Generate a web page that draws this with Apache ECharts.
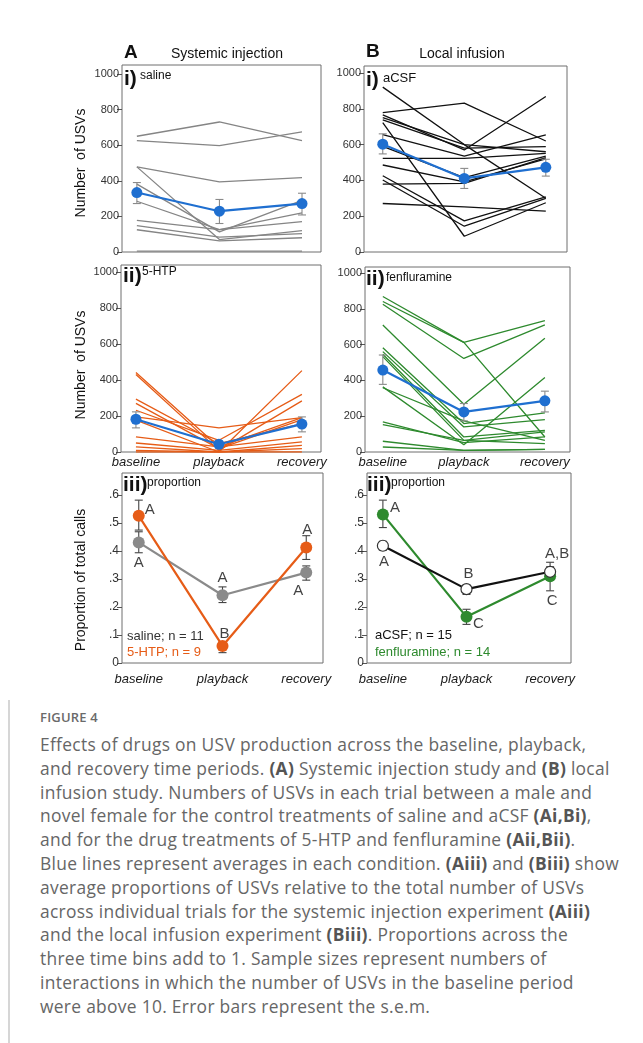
<!DOCTYPE html>
<html>
<head>
<meta charset="utf-8">
<script src="https://cdn.jsdelivr.net/npm/echarts@6/dist/echarts.min.js"></script>
<style>
  html, body { margin: 0; padding: 0; background: #fff; }
  #wrap { position: relative; width: 643px; height: 1043px; overflow: hidden; }
  #chart { position: absolute; left: 0; top: 0; width: 643px; height: 700px; }
  #border { position: absolute; left: 8px; top: 0; width: 2px; height: 1043px; background: #d6d6d6; }
  #figlabel { position: absolute; left: 40px; top: 708px; font-family: "Open Sans", sans-serif; font-size: 13px; font-weight: 600; color: #6a6a6a; letter-spacing: 0.2px; }
  #caption { position: absolute; left: 40px; top: 733px; font-family: "Open Sans", sans-serif; font-size: 17.4px; line-height: 23.8px; color: #666; white-space: nowrap; letter-spacing: 0.3px; }
  #caption b { font-weight: 700; color: #555; }
</style>
</head>
<body>
<div id="wrap">
  <div id="border"></div>
  <div id="chart"></div>
  <div id="figlabel">FIGURE 4</div>
  <div id="caption">Effects of drugs on USV production across the baseline, playback,<br>and recovery time periods. <b>(A)</b> Systemic injection study and <b>(B)</b> local<br>infusion study. Numbers of USVs in each trial between a male and<br>novel female for the control treatments of saline and aCSF <b>(Ai,Bi)</b>,<br>and for the drug treatments of 5-HTP and fenfluramine <b>(Aii,Bii)</b>.<br>Blue lines represent averages in each condition. <b>(Aiii)</b> and <b>(Biii)</b> show<br>average proportions of USVs relative to the total number of USVs<br>across individual trials for the systemic injection experiment <b>(Aiii)</b><br>and the local infusion experiment <b>(Biii)</b>. Proportions across the<br>three time bins add to 1. Sample sizes represent numbers of<br>interactions in which the number of USVs in the baseline period<br>were above 10. Error bars represent the s.e.m.</div>
</div>
<script>
// ---------------- DATA ----------------
const categories = ['baseline', 'playback', 'recovery'];
const countTicks = [0, 200, 400, 600, 800, 1000];
const propTicks = [0, 0.1, 0.2, 0.3, 0.4, 0.5, 0.6];

// individual trials (baseline, playback, recovery)
const salineTrials = [
  [650, 730, 625], [625, 597, 675], [478, 394, 418], [478, 70, 120],
  [381, 113, 290], [285, 126, 220], [178, 126, 170], [148, 84, 103],
  [125, 62, 80], [5, 5, 5]
];
const salineMean = [334, 229, 272];
const salineSem = [[272, 390], [160, 295], [208, 330]];

const acsfTrials = [
  [921, 600, 300], [779, 832, 620], [766, 570, 869], [738, 580, 589],
  [723, 88, 275], [655, 536, 654], [590, 415, 536], [523, 523, 551],
  [486, 392, 520], [426, 174, 308], [402, 144, 299], [379, 383, 527],
  [271, 252, 228], [750, 600, 560]
];
const acsfMean = [602, 411, 473];
const acsfSem = [[548, 660], [355, 467], [424, 518]];

const htpTrials = [
  [442, 28, 191], [431, 9, 284], [294, 46, 158], [270, 19, 180],
  [232, 65, 320], [195, 134, 191], [177, 0, 452], [84, 28, 84],
  [50, 9, 56], [28, 0, 37], [9, 0, 19], [0, 0, 0]
];
const htpMean = [182, 43, 155];
const htpSem = [[134, 223], [30, 55], [112, 195]];

const fenTrials = [
  [869, 613, 84], [841, 613, 734], [826, 523, 710], [710, 267, 636],
  [583, 159, 219], [561, 140, 181], [546, 84, 121], [533, 65, 112],
  [364, 41, 417], [359, 174, 65], [168, 52, 84], [153, 65, 47],
  [60, 9, 15], [28, 9, 15]
];
const fenMean = [458, 224, 286];
const fenSem = [[378, 542], [174, 271], [224, 340]];

const salineProp = [0.431, 0.242, 0.323];
const salinePropSem = [[0.394, 0.469], [0.216, 0.272], [0.296, 0.347]];
const htpProp = [0.526, 0.061, 0.413];
const htpPropSem = [[0.475, 0.582], [0.037, 0.075], [0.370, 0.455]];
const acsfProp = [0.419, 0.264, 0.326];
const acsfPropSem = [[0.403, 0.435], [0.245, 0.278], [0.308, 0.360]];
const fenProp = [0.531, 0.165, 0.310];
const fenPropSem = [[0.484, 0.582], [0.138, 0.192], [0.258, 0.344]];

const salineLetters = ['A', 'A', 'A'];
const htpLetters = ['A', 'B', 'A'];
const acsfLetters = ['A', 'B', 'A,B'];
const fenLetters = ['A', 'C', 'C'];

// ---------------- STYLE / LAYOUT ----------------
const BLUE = '#1f6fd0', GRAY = '#858585', ORANGE = '#e65c17', GREEN = '#2e8a2e', BLACK = '#111';
const FONT = '"Liberation Sans", Arial, sans-serif';

const panels = [
  { left: 122, top: 65, right: 321, bottom: 252, xmin: -0.18, xmax: 2.23, ymax: 1050, kind: 'count', xlabels: false }, // Ai
  { left: 364, top: 66, right: 567, bottom: 252, xmin: -0.23, xmax: 2.26, ymax: 1039, kind: 'count', xlabels: false }, // Bi
  { left: 121, top: 265, right: 321, bottom: 452, xmin: -0.18, xmax: 2.23, ymax: 1039, kind: 'count', xlabels: true },  // Aii
  { left: 365, top: 267, right: 570, bottom: 452, xmin: -0.22, xmax: 2.31, ymax: 1034, kind: 'count', xlabels: true },  // Bii
  { left: 122, top: 473, right: 323, bottom: 663, xmin: -0.20, xmax: 2.20, ymax: 0.679, kind: 'prop', xlabels: true },  // Aiii
  { left: 367, top: 473, right: 571, bottom: 663, xmin: -0.19, xmax: 2.25, ymax: 0.679, kind: 'prop', xlabels: true }   // Biii
];

const grids = [], xAxes = [], yAxes = [], series = [];

panels.forEach((p, i) => {
  grids.push({ left: p.left, top: p.top, width: p.right - p.left, height: p.bottom - p.top,
    show: true, borderColor: '#6e6e6e', borderWidth: 1, backgroundColor: 'transparent' });
  xAxes.push({
    type: 'value', gridIndex: i, min: p.xmin, max: p.xmax, position: 'bottom',
    axisLine: { show: false, onZero: false }, axisTick: { show: false }, splitLine: { show: false },
    axisLabel: {
      show: p.xlabels, customValues: [0, 1, 2],
      formatter: v => categories[Math.round(v)],
      fontFamily: FONT, fontStyle: 'italic', fontSize: 13, color: '#1a1a1a',
      margin: p.kind === 'prop' ? 10 : 4
    }
  });
  const ticks = p.kind === 'count' ? countTicks : propTicks;
  yAxes.push({
    type: 'value', gridIndex: i, min: 0, max: p.ymax, position: 'left',
    axisLine: { show: false, onZero: false },
    axisTick: { show: true, length: 5, customValues: ticks, lineStyle: { color: '#555' } },
    splitLine: { show: false },
    axisLabel: {
      customValues: ticks, fontFamily: FONT, fontSize: p.kind === 'count' ? 11 : 12, color: '#333', margin: 3,
      formatter: v => p.kind === 'count' ? String(v) : (v === 0 ? '0' : String(Math.round(v * 10) / 10).replace(/^0/, ''))
    }
  });
});

function toPts(arr) { return arr.map((v, k) => [k, v]); }

function addTrials(trials, gi, color, width) {
  trials.forEach(t => series.push({
    type: 'line', xAxisIndex: gi, yAxisIndex: gi, data: toPts(t), symbol: 'none',
    lineStyle: { color: color, width: width }, silent: true, z: 2
  }));
}

function errRender(params, api) {
  const x = api.value(0), lo = api.value(1), hi = api.value(2);
  const a = api.coord([x, lo]), b = api.coord([x, hi]);
  const w = 4, st = { stroke: api.visual('color'), lineWidth: 1.1 };
  return { type: 'group', children: [
    { type: 'line', shape: { x1: a[0], y1: a[1], x2: b[0], y2: b[1] }, style: st },
    { type: 'line', shape: { x1: a[0] - w, y1: a[1], x2: a[0] + w, y2: a[1] }, style: st },
    { type: 'line', shape: { x1: b[0] - w, y1: b[1], x2: b[0] + w, y2: b[1] }, style: st }
  ]};
}

function addErr(sem, gi, color, z) {
  series.push({
    type: 'custom', xAxisIndex: gi, yAxisIndex: gi, renderItem: errRender,
    data: sem.map((s, k) => [k, s[0], s[1]]), itemStyle: { color: color }, silent: true, z: z
  });
}

function addMean(vals, gi, color, opts) {
  opts = opts || {};
  series.push({
    type: 'line', xAxisIndex: gi, yAxisIndex: gi, data: toPts(vals),
    symbol: 'circle', symbolSize: opts.size || 11,
    itemStyle: { color: opts.fill || color, borderColor: opts.border || color, borderWidth: opts.border ? 1.2 : 0 },
    lineStyle: { color: opts.line || color, width: opts.width || 2.2 }, silent: true, z: opts.z || 5
  });
}

function addLetters(vals, letters, gi, color, offsets) {
  series.push({
    type: 'scatter', xAxisIndex: gi, yAxisIndex: gi, symbolSize: 0, silent: true, z: 10,
    data: vals.map((v, k) => ({
      value: [k, v],
      label: { show: true, formatter: letters[k], position: offsets[k], align: 'center', verticalAlign: 'middle',
        fontFamily: FONT, fontSize: 15, color: color }
    }))
  });
}

addTrials(salineTrials, 0, GRAY, 1.3);
addErr(salineSem, 0, '#8a8a8a', 4);
addMean(salineMean, 0, BLUE);
addTrials(acsfTrials, 1, BLACK, 1.3);
addErr(acsfSem, 1, '#8a8a8a', 4);
addMean(acsfMean, 1, BLUE);
addTrials(htpTrials, 2, ORANGE, 1.3);
addErr(htpSem, 2, '#8a8a8a', 4);
addMean(htpMean, 2, BLUE);
addTrials(fenTrials, 3, GREEN, 1.3);
addErr(fenSem, 3, '#8a8a8a', 4);
addMean(fenMean, 3, BLUE);
addErr(salinePropSem, 4, '#444', 4);
addErr(htpPropSem, 4, '#444', 4);
addMean(salineProp, 4, '#8a8a8a', { size: 12, z: 5 });
addMean(htpProp, 4, ORANGE, { size: 12, z: 6 });
addLetters(salineProp, salineLetters, 4, '#111', [[0, 20], [0, -17], [-8, 18]]);
addLetters(htpProp, htpLetters, 4, '#111', [[11, -6], [2, -12], [1, -18]]);
addErr(acsfPropSem, 5, '#444', 4);
addErr(fenPropSem, 5, '#444', 4);
addMean(acsfProp, 5, BLACK, { size: 11, fill: '#fff', border: '#333', line: '#111', z: 6 });
addMean(fenProp, 5, GREEN, { size: 12, z: 5 });
addLetters(acsfProp, acsfLetters, 5, '#111', [[1, 16], [2, -15], [7, -18]]);
addLetters(fenProp, fenLetters, 5, '#111', [[12, -7], [12, 7], [2, 25]]);

function txt(x, y, text, o) {
  return Object.assign({ type: 'text', x: x, y: y, silent: true, z: 100,
    style: Object.assign({ text: text, fontFamily: FONT, fontSize: 12, fill: '#111', align: 'left', verticalAlign: 'middle' }, o || {}) });
}

const graphics = [
  txt(124, 53, 'A', { fontSize: 19, fontWeight: 'bold' }),
  txt(227, 54, 'Systemic injection', { fontSize: 14, align: 'center' }),
  txt(366, 52, 'B', { fontSize: 19, fontWeight: 'bold' }),
  txt(462, 54, 'Local infusion', { fontSize: 14, align: 'center' }),
  txt(124, 79, 'i)', { fontSize: 21, fontWeight: 'bold' }),
  txt(140, 76, 'saline', { fontSize: 12 }),
  txt(366, 80, 'i)', { fontSize: 21, fontWeight: 'bold' }),
  txt(383, 78, 'aCSF', { fontSize: 13 }),
  txt(123, 276, 'ii)', { fontSize: 21, fontWeight: 'bold' }),
  txt(142, 272, '5-HTP', { fontSize: 12 }),
  txt(366, 279, 'ii)', { fontSize: 21, fontWeight: 'bold' }),
  txt(386, 278, 'fenfluramine', { fontSize: 12 }),
  txt(123, 485, 'iii)', { fontSize: 21, fontWeight: 'bold' }),
  txt(147, 483, 'proportion', { fontSize: 12 }),
  txt(367, 485, 'iii)', { fontSize: 21, fontWeight: 'bold' }),
  txt(391, 483, 'proportion', { fontSize: 12 }),
  txt(127, 636, 'saline; n = 11', { fontSize: 13, fill: '#333' }),
  txt(127, 652, '5-HTP; n = 9', { fontSize: 13, fill: ORANGE }),
  txt(375, 635, 'aCSF; n = 15', { fontSize: 13, fill: '#111' }),
  txt(375, 652, 'fenfluramine; n = 14', { fontSize: 13, fill: GREEN }),
  Object.assign(txt(81, 163, 'Number  of USVs', { fontSize: 14, align: 'center' }), { rotation: Math.PI / 2 }),
  Object.assign(txt(81, 365, 'Number  of USVs', { fontSize: 14, align: 'center' }), { rotation: Math.PI / 2 }),
  Object.assign(txt(81, 580, 'Proportion of total calls', { fontSize: 14, align: 'center' }), { rotation: Math.PI / 2 })
];

const chart = echarts.init(document.getElementById('chart'), null, { renderer: 'canvas' });
chart.setOption({
  animation: false,
  backgroundColor: '#fff',
  grid: grids, xAxis: xAxes, yAxis: yAxes, series: series, graphic: graphics
});
</script>
</body>
</html>
